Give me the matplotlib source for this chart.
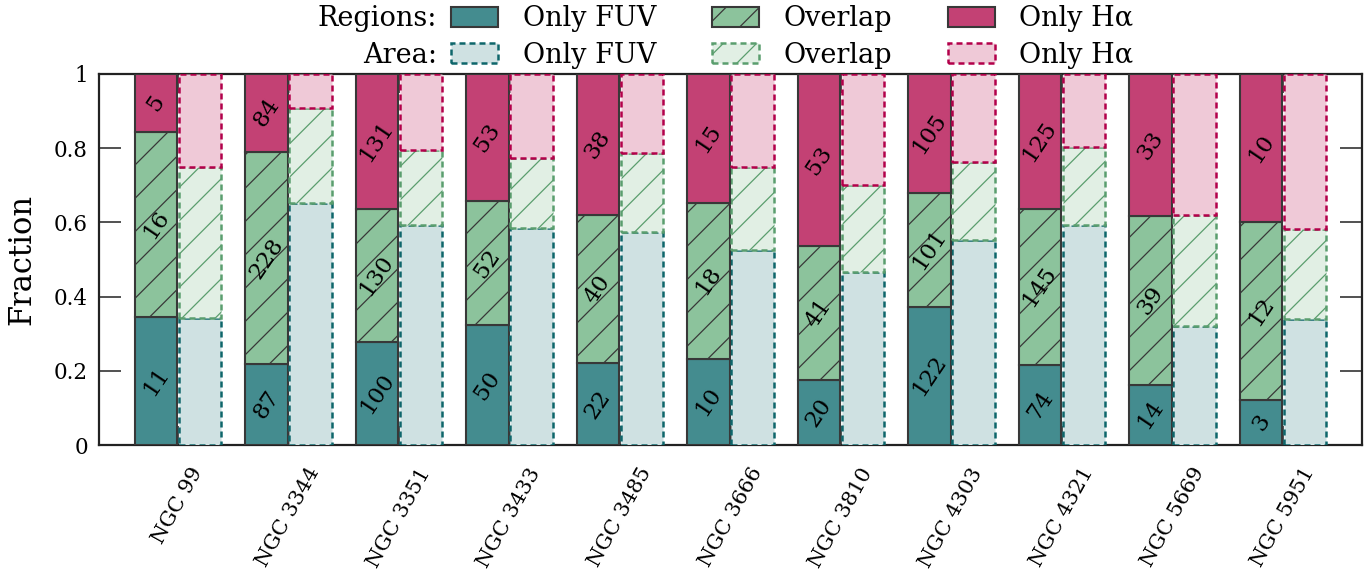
import matplotlib
matplotlib.use("Agg")
import matplotlib.pyplot as plt
from matplotlib.patches import Patch
from matplotlib.ticker import FuncFormatter
import numpy as np

# --- data -------------------------------------------------------------
galaxies = ["NGC 99", "NGC 3344", "NGC 3351", "NGC 3433", "NGC 3485",
            "NGC 3666", "NGC 3810", "NGC 4303", "NGC 4321", "NGC 5669",
            "NGC 5951"]

# number of regions in each class
n_fuv = [11, 87, 100, 50, 22, 10, 20, 122, 74, 14, 3]
n_overlap = [16, 228, 130, 52, 40, 18, 41, 101, 145, 39, 12]
n_halpha = [5, 84, 131, 53, 38, 15, 53, 105, 125, 33, 10]

# fraction of area in each class
area_fuv = [0.341, 0.651, 0.593, 0.584, 0.573, 0.525, 0.467, 0.553, 0.593, 0.321, 0.339]
area_overlap = [0.409, 0.258, 0.202, 0.189, 0.213, 0.223, 0.234, 0.211, 0.211, 0.299, 0.242]
area_halpha = [0.250, 0.091, 0.205, 0.227, 0.214, 0.252, 0.299, 0.236, 0.196, 0.380, 0.419]

yticks = [0, 0.2, 0.4, 0.6, 0.8, 1]

# --- style ------------------------------------------------------------
plt.rcParams["font.family"] = ["DejaVu Serif"]
plt.rcParams["hatch.linewidth"] = 0.9

reg_cols = ["#448c8f", "#8cc39c", "#c34174"]
area_cols = ["#cfe1e2", "#e1efe4", "#efc9d7"]
area_edges = ["#0e666b", "#5a9e6e", "#b3004a"]
reg_edge = "#383838"
dash = (0, (2.4, 1.6))

fig = plt.figure(figsize=(13.72, 5.73), dpi=100)
ax = fig.add_axes([99 / 1372, 1 - 445 / 573, (1362 - 99) / 1372, (445 - 74) / 573])

x = np.arange(len(galaxies))
w = 0.385
off = 0.2

counts = np.array([n_fuv, n_overlap, n_halpha], dtype=float)
frac = counts / counts.sum(axis=0)
areas = np.array([area_fuv, area_overlap, area_halpha])

hatches = [None, "/", None]
bottom_r = np.zeros(len(x))
bottom_a = np.zeros(len(x))
for k in range(3):
    ax.bar(x - off, frac[k], w, bottom=bottom_r, color=reg_cols[k],
           edgecolor=reg_edge, linewidth=1.5, hatch=hatches[k], zorder=3)
    ax.bar(x + off, areas[k], w, bottom=bottom_a, color=area_cols[k],
           edgecolor=area_edges[k], linewidth=1.8, linestyle=dash,
           hatch=hatches[k], zorder=3)
    for i in range(len(x)):
        ax.text(x[i] - off, bottom_r[i] + frac[k][i] / 2, f"{int(counts[k][i])}",
                rotation=56, ha="center", va="center", fontsize=16.5, zorder=5)
    bottom_r += frac[k]
    bottom_a += areas[k]

ax.set_xlim(-0.715, len(x) - 1 + 0.715)
ax.set_ylim(0, 1)
ax.set_yticks(yticks)
ax.yaxis.set_major_formatter(FuncFormatter(lambda v, p: f"{v:g}"))
ax.set_xticks(x)
ax.set_xticklabels(galaxies, rotation=61, ha="center", fontsize=15)
ax.tick_params(axis="y", direction="in", length=16, width=1.2, right=True,
               labelsize=15.5, pad=8, color="#333333")
ax.tick_params(axis="x", direction="in", length=14, width=1.2, top=True,
               pad=14, color="#333333")
for s in ax.spines.values():
    s.set_linewidth(1.6)
    s.set_color("#222222")
ax.set_ylabel("Fraction", fontsize=22, labelpad=12)

# --- legend -----------------------------------------------------------
names = ["Only FUV", "Overlap", "Only H\u03b1"]
handles, labels = [], []
for k in range(3):
    handles.append(Patch(facecolor=reg_cols[k], edgecolor=reg_edge, linewidth=1.5,
                         hatch=hatches[k]))
    labels.append(names[k])
    handles.append(Patch(facecolor=area_cols[k], edgecolor=area_edges[k], linewidth=1.8,
                         linestyle=dash, hatch=hatches[k]))
    labels.append(names[k])

leg = fig.legend(handles, labels, ncol=3, loc="upper left",
                 bbox_to_anchor=(432 / 1372, 1.024), frameon=False, fontsize=19.5,
                 handlelength=1.75, handleheight=0.75, handletextpad=0.9,
                 columnspacing=2.05, labelspacing=0.35, borderpad=0.2)

fig.canvas.draw()
renderer = fig.canvas.get_renderer()
inv = fig.transFigure.inverted()
hx = leg.legend_handles[0].get_window_extent(renderer).x0
for txt, head in zip(leg.get_texts()[:2], ["Regions:", "Area:"]):
    bb = txt.get_window_extent(renderer)
    fx, fy = inv.transform(((hx - 14), (bb.y0 + bb.y1) / 2))
    fig.text(fx, fy, head, ha="right", va="center", fontsize=19.5)

fig.savefig("out.png", dpi=100)
